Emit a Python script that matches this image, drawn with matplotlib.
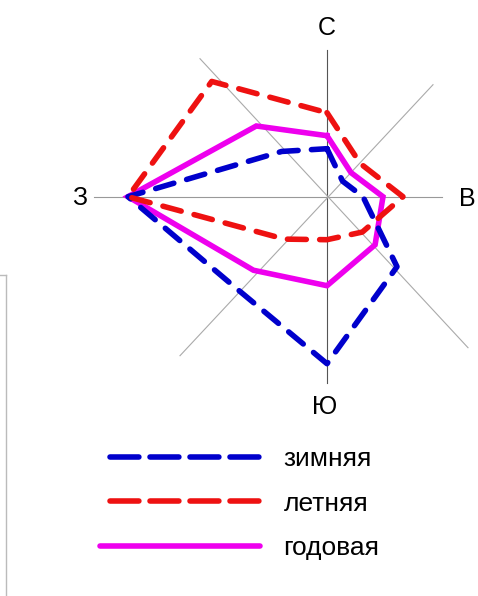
import numpy as np
import matplotlib
matplotlib.use("Agg")
import matplotlib.pyplot as plt
from matplotlib.lines import Line2D

plt.rcParams['font.family'] = ['Liberation Sans', 'DejaVu Sans']

# directions: С, СВ, В, ЮВ, Ю, ЮЗ, З, СЗ
directions = ["С", "СВ", "В", "ЮВ", "Ю", "ЮЗ", "З", "СЗ"]
angles_deg = [90, 45, 0, -45, -90, -135, 180, 135]
winter = [4.8, 2.2, 3.6, 9.9, 16.7, 12.9, 19.9, 6.4]
summer = [8.4, 4.7, 7.6, 5.0, 4.3, 6.0, 19.9, 16.3]
annual = [6.1, 3.4, 5.6, 6.8, 8.9, 10.4, 19.9, 10.0]
series_names = ["зимняя", "летняя", "годовая"]
axis_labels = ["С", "В", "Ю", "З"]

SCALE = 10.0  # px per unit

W, H = 478, 596
fig = plt.figure(figsize=(W / 100, H / 100), dpi=100)
ax = fig.add_axes([0, 0, 1, 1])
cx, cy = 327, 196.7
ax.set_xlim(-cx, W - cx)
ax.set_ylim(-(H - cy), cy)
ax.set_aspect('equal')
ax.axis('off')

# axis rays (extents in px)
ax.plot([0, 0], [-186, 147], color='#555555', lw=0.8, zorder=1)
ax.plot([-233, 115], [0, 0], color='#999999', lw=0.8, zorder=1)
ax.plot([-127, 141], [138, -151], color='#aaaaaa', lw=0.8, zorder=1)
ax.plot([-147, 106], [-159, 112], color='#aaaaaa', lw=0.8, zorder=1)

def poly(vals):
    a = np.deg2rad(angles_deg)
    r = np.array(vals) * SCALE
    x = r * np.cos(a)
    y = r * np.sin(a)
    return np.append(x, x[0]), np.append(y, y[0])

lw = 4.0
x, y = poly(annual)
ax.plot(x, y, color='#ee00ee', lw=lw, solid_joinstyle='miter', zorder=3)
x, y = poly(winter)
ax.plot(x, y, color='#0000cc', lw=lw, dashes=(3.4, 2.4), dash_capstyle='round', zorder=4)
x, y = poly(summer)
ax.plot(x, y, color='#ee1111', lw=lw, dashes=(3.4, 2.4), dash_capstyle='round', zorder=4)

fs = 18
ax.text(0, 168.7, axis_labels[0], fontsize=fs, ha='center', va='center')
ax.text(140, -2, axis_labels[1], fontsize=fs, ha='center', va='center')
ax.text(-2, -210, axis_labels[2], fontsize=fs, ha='center', va='center')
ax.text(-247, -1, axis_labels[3], fontsize=fs, ha='center', va='center')

leg_dash = (5.4, (5.2, 2.0))
handles = [
    Line2D([], [], color='#0000cc', lw=lw, linestyle=leg_dash, dash_capstyle='round'),
    Line2D([], [], color='#ee1111', lw=lw, linestyle=leg_dash, dash_capstyle='round'),
    Line2D([], [], color='#ee00ee', lw=lw, solid_capstyle='round'),
]
leg = ax.legend(handles, series_names, loc='upper left',
                bbox_to_anchor=(100 / W, 1 - 447 / H), bbox_transform=fig.transFigure,
                frameon=False, fontsize=19, handlelength=6.05, handletextpad=0.9,
                labelspacing=0.78, borderpad=0, borderaxespad=0)

# partial frame at left
fig.add_artist(Line2D([6 / W, 6 / W], [0, 1 - 275 / H], color='#bbbbbb', lw=1, transform=fig.transFigure))
fig.add_artist(Line2D([0, 6 / W], [1 - 275 / H, 1 - 275 / H], color='#bbbbbb', lw=1, transform=fig.transFigure))

fig.savefig('out.png', dpi=100)
